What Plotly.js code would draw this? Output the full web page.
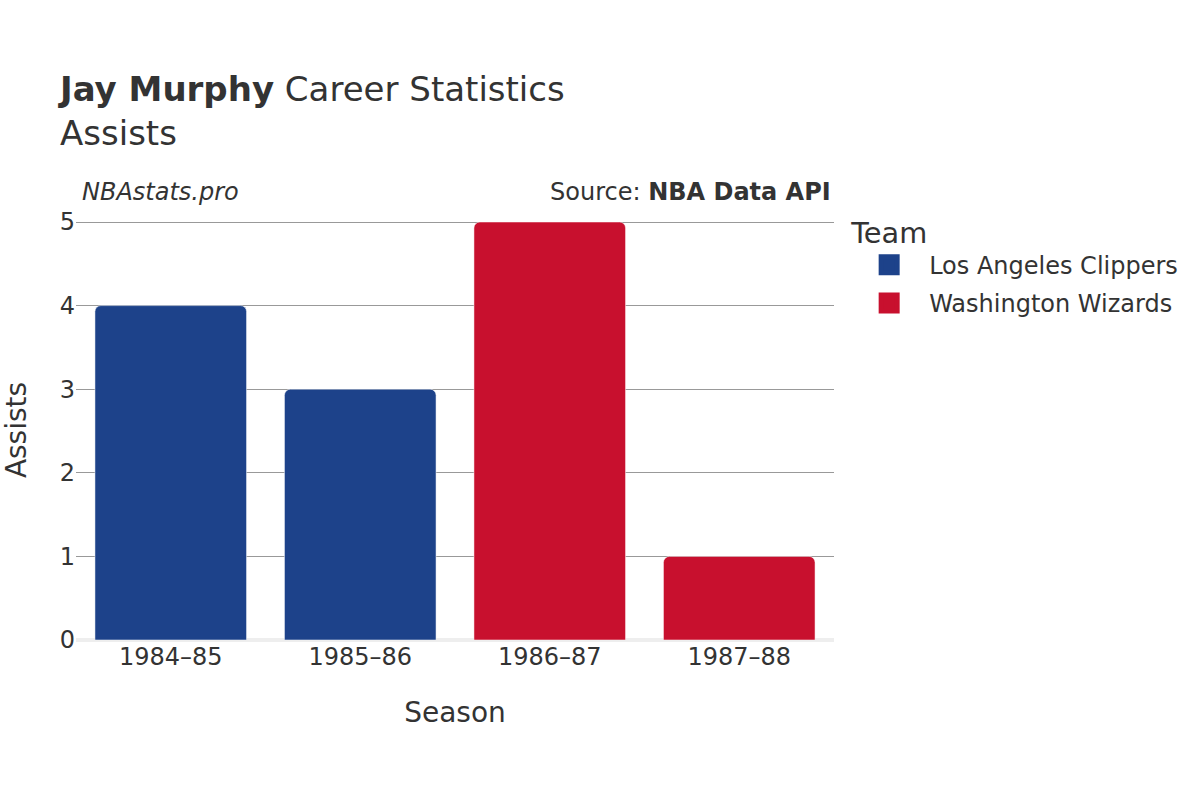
<!DOCTYPE html>
<html>
<head>
<meta charset="utf-8">
<script src="https://cdn.plot.ly/plotly-3.0.1.min.js"></script>
<style>html,body{margin:0;padding:0;background:#fff;}#chart{width:1200px;height:800px;}</style>
</head>
<body>
<div id="chart"></div>
<script>
const seasons = ["1984–85", "1985–86", "1986–87", "1987–88"];
const teams = ["Los Angeles Clippers", "Washington Wizards"];
const teamColors = ["#1D428A", "#C8102E"];
const clippersSeasons = ["1984–85", "1985–86"];
const clippersAssists = [4, 3];
const wizardsSeasons = ["1986–87", "1987–88"];
const wizardsAssists = [5, 1];

const traces = [
  {type: "bar", name: teams[0], x: clippersSeasons, y: clippersAssists, showlegend: false, legendgroup: "a",
   marker: {color: teamColors[0], cornerradius: 6, line: {width: 1, color: "rgba(255,255,255,0.5)"}}},
  {type: "bar", name: teams[1], x: wizardsSeasons, y: wizardsAssists, showlegend: false, legendgroup: "b",
   marker: {color: teamColors[1], cornerradius: 6, line: {width: 1, color: "rgba(255,255,255,0.5)"}}},
  // legend entries only (no data drawn)
  {type: "scatter", mode: "markers", name: teams[0], x: [null], y: [null], legendgroup: "a", hoverinfo: "skip",
   marker: {color: teamColors[0], symbol: "square", size: 16, line: {width: 5, color: teamColors[0]}}},
  {type: "scatter", mode: "markers", name: teams[1], x: [null], y: [null], legendgroup: "b", hoverinfo: "skip",
   marker: {color: teamColors[1], symbol: "square", size: 16, line: {width: 5, color: teamColors[1]}}}
];

const font = "DejaVu Sans, sans-serif";
const layout = {
  width: 1200, height: 800,
  paper_bgcolor: "#fff", plot_bgcolor: "#fff",
  font: {family: font, size: 24, color: "#333"},
  margin: {l: 76, r: 366, t: 220, b: 160},
  barmode: "overlay", bargap: 0.2,
  title: {text: "<b>Jay Murphy</b> Career Statistics<br>Assists",
          font: {family: font, size: 34, color: "#333"},
          x: 0.05, xanchor: "left", xref: "container",
          y: 0.874, yanchor: "bottom", yref: "container"},
  xaxis: {type: "category", categoryorder: "array", categoryarray: seasons,
          title: {text: "Season", font: {size: 28}, standoff: 32},
          tickfont: {size: 24}, showgrid: false, ticks: "", showline: false},
  yaxis: {range: [0, 5.024], tickvals: [0, 1, 2, 3, 4, 5], title: {text: "Assists", font: {size: 28}, standoff: 26},
          tickfont: {size: 24}, showgrid: true, gridcolor: "#999", gridwidth: 1,
          zeroline: true, zerolinecolor: "#eee", zerolinewidth: 4, ticks: "", showline: false},
  legend: {title: {text: "Team", font: {size: 28.8}}, font: {size: 24},
           traceorder: "grouped", tracegroupgap: 4, itemwidth: 70,
           x: 1.02, xanchor: "left", y: 1.035, yanchor: "top"},
  annotations: [
    {text: "<i>NBAstats.pro</i>", xref: "paper", yref: "paper", x: 0.005, y: 1.067,
     xanchor: "left", yanchor: "middle", showarrow: false, font: {size: 24, color: "#333"}},
    {text: "Source: <b>NBA Data API</b>", xref: "paper", yref: "paper", x: 0.999, y: 1.067,
     xanchor: "right", yanchor: "middle", showarrow: false, font: {size: 24, color: "#333"}}
  ]
};
Plotly.newPlot("chart", traces, layout, {displayModeBar: false, staticPlot: true});
</script>
</body>
</html>
